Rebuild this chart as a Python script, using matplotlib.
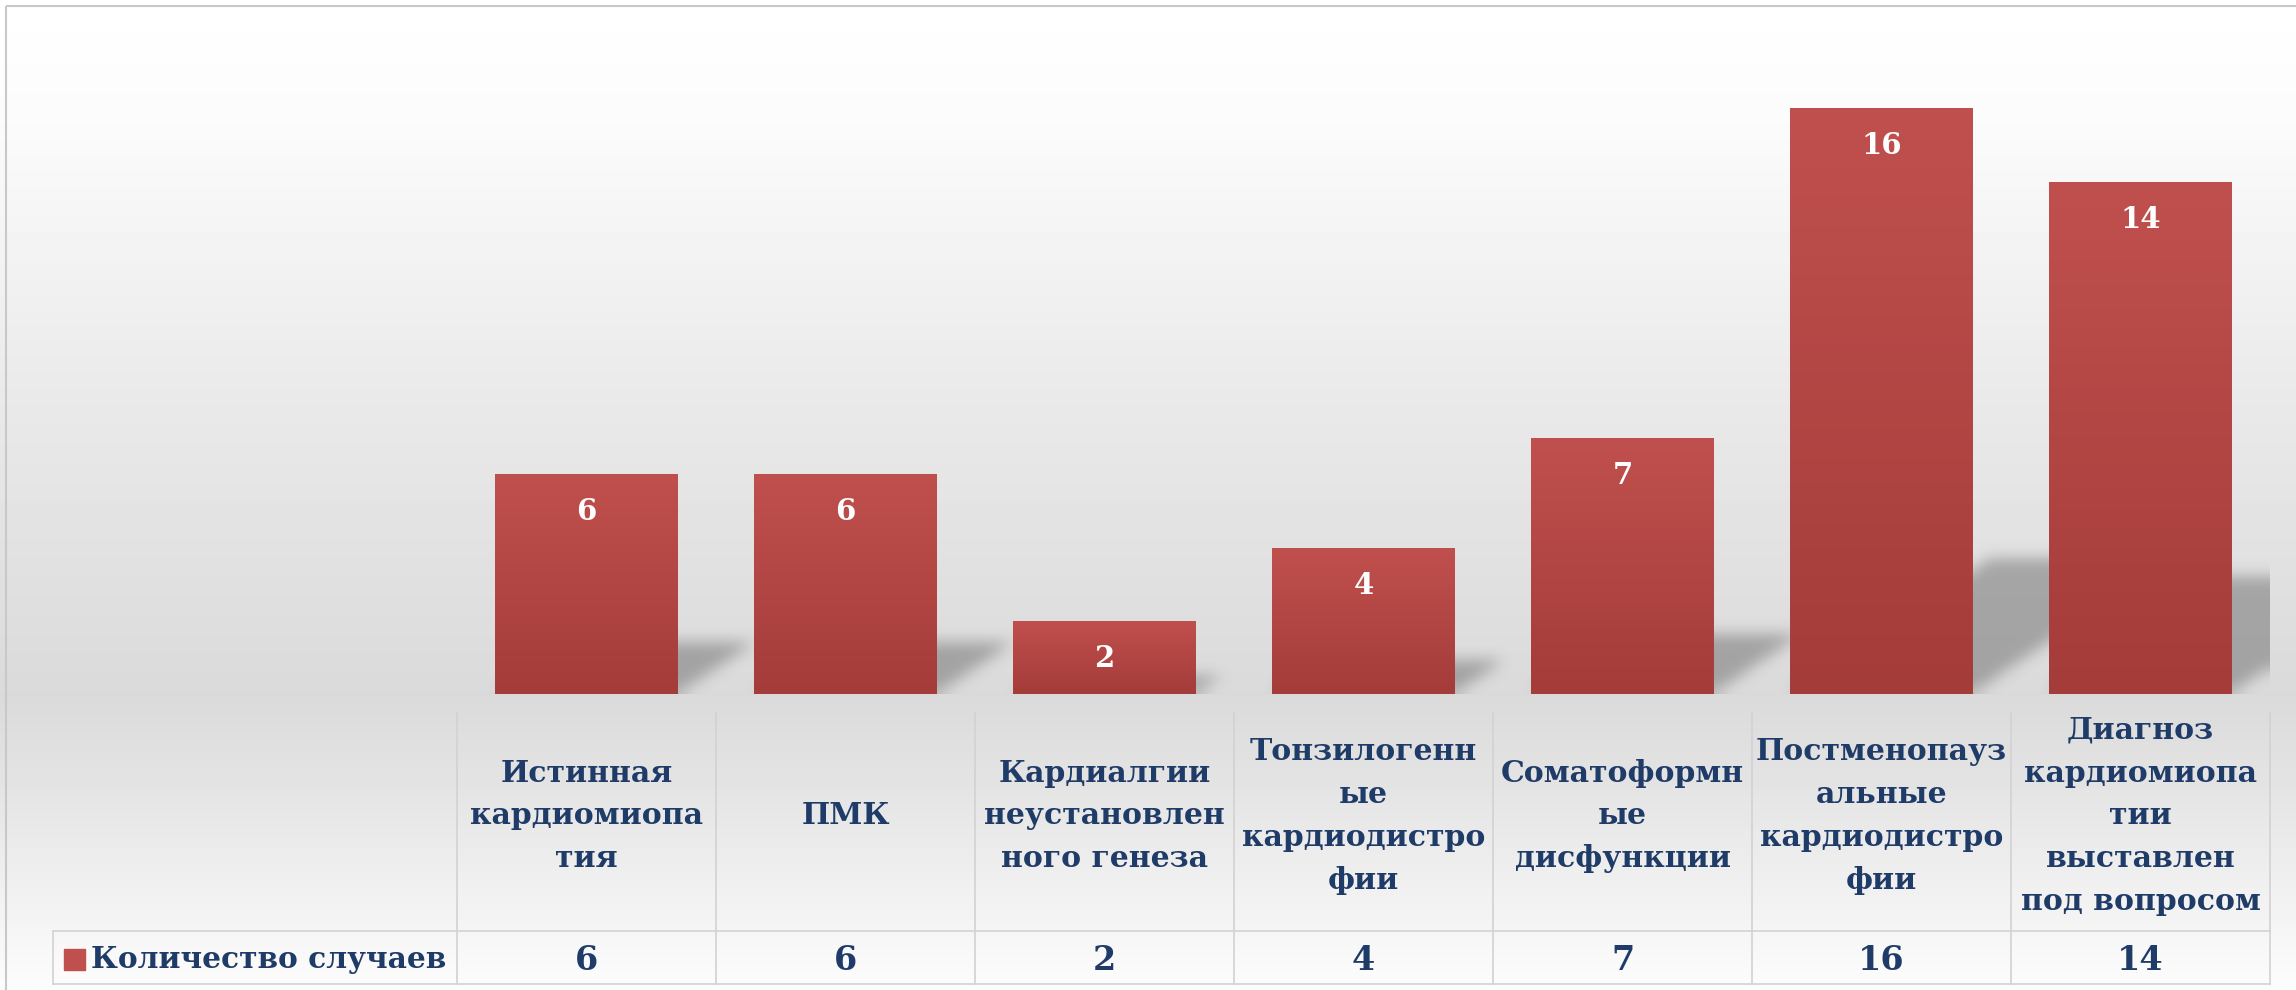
import numpy as np
import matplotlib
matplotlib.use('Agg')
import matplotlib.pyplot as plt
from matplotlib.patches import Rectangle
from matplotlib.path import Path
from matplotlib import transforms

# данные
categories = [
    'Истинная\nкардиомиопа\nтия',
    'ПМК',
    'Кардиалгии\nнеустановлен\nного генеза',
    'Тонзилогенн\nые\nкардиодистро\nфии',
    'Соматоформн\nые\nдисфункции',
    'Постменопауз\nальные\nкардиодистро\nфии',
    'Диагноз\nкардиомиопа\nтии\nвыставлен\nпод вопросом',
]
values = [6, 6, 2, 4, 7, 16, 14]
series_name = 'Количество случаев'

W, H = 2296, 990
navy = '#1f3b68'
bar_top = np.array([0xc0, 0x50, 0x4d]) / 255
bar_bot = np.array([0xa4, 0x3c, 0x3a]) / 255
font = ['DejaVu Serif']

fig = plt.figure(figsize=(W / 100, H / 100), dpi=100)

# фон: вертикальный градиент
bg = fig.add_axes([0, 0, 1, 1])
bg.set_xlim(0, W)
bg.set_ylim(H, 0)
bg.axis('off')
ys = np.arange(H)
levels = np.interp(ys, [0, 120, 400, 694, 800, 990], [1.0, 0.985, 0.915, 0.855, 0.90, 0.99])
bg.imshow(levels[:, None], extent=[0, W, H, 0], aspect='auto', cmap='gray', vmin=0, vmax=1, zorder=0)
bg.add_patch(Rectangle((6, 6), W, H, fill=False, ec='#c8c8c8', lw=1.5, zorder=1))

# область столбцов
px_per_unit = 36.6
ymax = (694 - 35) / px_per_unit
ax = fig.add_axes([457 / W, 1 - 694 / H, (2270 - 457) / W, (694 - 35) / H])
ax.axis('off')
ax.patch.set_alpha(0)

x = np.arange(len(values))
bars = ax.bar(x, values, width=0.706, color='#b44543', zorder=4)

# мягкая тень за столбцами
nx, ny = 900, 330
gx = np.linspace(-0.5, len(values) - 0.5, nx)
gy = np.linspace(0, ymax, ny)
XX, YY = np.meshgrid(gx, gy)
pts = np.column_stack([XX.ravel(), YY.ravel()])
mask = np.zeros(XX.size)
for b in bars:
    x0, w, h = b.get_x(), b.get_width(), b.get_height()
    hs = 0.23 * h
    dx = 0.21 * hs
    path = Path([(x0, 0), (x0 + w, 0), (x0 + w + dx, hs), (x0 + dx, hs), (x0, 0)])
    mask = np.maximum(mask, path.contains_points(pts))
mask = mask.reshape(ny, nx)


def box_blur(a, r, axis):
    pad = [(0, 0), (0, 0)]
    pad[axis] = (r, r)
    ap = np.pad(a, pad, mode='edge')
    c = np.cumsum(ap, axis=axis)
    c = np.insert(c, 0, 0, axis=axis)
    n = a.shape[axis]
    if axis == 0:
        return (c[2 * r + 1:2 * r + 1 + n] - c[:n]) / (2 * r + 1)
    return (c[:, 2 * r + 1:2 * r + 1 + n] - c[:, :n]) / (2 * r + 1)


for _ in range(3):
    mask = box_blur(mask, 3, 0)
    mask = box_blur(mask, 3, 1)
shadow = np.zeros((ny, nx, 4))
shadow[..., :3] = 0.33
shadow[..., 3] = mask * 0.42
ax.imshow(shadow, extent=[gx[0], gx[-1], 0, ymax], origin='lower', aspect='auto',
          interpolation='bilinear', zorder=2)

grad = np.linspace(0, 1, 256)[:, None, None]
grad_img = bar_top * (1 - grad) + bar_bot * grad

for b, v in zip(bars, values):
    x0, w, h = b.get_x(), b.get_width(), b.get_height()
    im = ax.imshow(grad_img, extent=[x0, x0 + w, 0, h], aspect='auto', zorder=5)
    im.set_clip_path(b)
    ax.annotate(str(v), (x0 + w / 2, h), xytext=(0, -27), textcoords='offset points',
                ha='center', va='center', color='white', fontsize=21,
                fontweight='bold', family=font, zorder=6)

ax.set_xlim(-0.5, len(values) - 0.5)
ax.set_ylim(0, ymax)

# таблица данных
trans = transforms.blended_transform_factory(ax.transData, bg.transData)
grid_c = '#d2d2d2'
for k in range(len(values) + 1):
    bg.plot([k - 0.5, k - 0.5], [713, 984], color=grid_c, lw=1.2, transform=trans, zorder=2)
bg.plot([53, 53], [931, 984], color=grid_c, lw=1.2, zorder=2)
bg.plot([53, 2270], [931, 931], color=grid_c, lw=1.2, zorder=2)
bg.plot([53, 2270], [984, 984], color=grid_c, lw=1.2, zorder=2)

for i, (lab, v) in enumerate(zip(categories, values)):
    bg.text(i, 816, lab, transform=trans, ha='center', va='center', color=navy,
            fontsize=21.5, fontweight='bold', family=font, linespacing=1.6, zorder=3)
    bg.text(i, 960, str(v), transform=trans, ha='center', va='center', color=navy,
            fontsize=24, fontweight='bold', family=font, zorder=3)

# легенда в таблице
bg.add_patch(Rectangle((64, 949), 21, 21, color='#c0504d', zorder=3))
bg.text(91, 960, series_name, ha='left', va='center', color=navy,
        fontsize=21.3, fontweight='bold', family=font, zorder=3)

plt.savefig('out.png', dpi=100)
